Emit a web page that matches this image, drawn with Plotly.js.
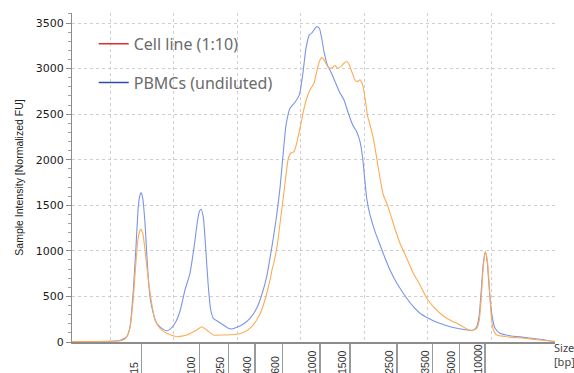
<!DOCTYPE html>
<html>
<head>
<meta charset="utf-8">
<script src="https://cdn.plot.ly/plotly-3.0.1.min.js"></script>
<style>html,body{margin:0;padding:0;background:#fff;}#chart{width:574px;height:373px;}</style>
</head>
<body>
<div id="chart"></div>
<script>
// Migration time (arbitrary units) and normalized fluorescence
const pbmcTime = [4.00, 8.41, 10.77, 11.55, 12.18, 12.61, 13.13, 13.65, 14.07, 14.43, 14.70, 14.86, 15.13, 15.49, 15.85, 16.27, 16.79, 17.33, 18.12, 18.90, 19.42, 20.21, 21.00, 21.78, 22.57, 23.36, 23.72, 24.03, 24.30, 24.66, 25.09, 25.45, 25.83, 26.24, 27.02, 27.81, 28.60, 29.13, 29.92, 30.96, 32.01, 33.06, 33.85, 34.64, 35.16, 35.68, 36.21, 36.73, 37.25, 37.68, 38.30, 39.09, 39.77, 40.30, 40.82, 41.34, 41.72, 42.08, 42.51, 42.92, 43.29, 43.65, 44.17, 44.71, 45.39, 46.06, 46.80, 47.48, 48.17, 48.80, 49.32, 49.74, 50.00, 50.37, 50.89, 51.68, 52.47, 53.25, 54.04, 54.83, 55.61, 56.67, 57.71, 58.76, 60.07, 61.39, 62.96, 64.54, 66.11, 67.15, 67.68, 68.05, 68.36, 68.72, 69.04, 69.35, 69.67, 70.04, 70.56, 71.35, 72.92, 75.02, 77.64, 80.00];
const pbmcFU = [5, 5, 11, 16, 38, 58, 168, 571, 1046, 1485, 1613, 1639, 1577, 1303, 862, 497, 315, 205, 150, 124, 139, 205, 340, 571, 757, 1120, 1317, 1430, 1457, 1372, 974, 607, 351, 260, 223, 187, 150, 143, 161, 198, 260, 370, 516, 717, 922, 1141, 1394, 1690, 2086, 2382, 2565, 2631, 2711, 2931, 3224, 3370, 3388, 3425, 3461, 3443, 3333, 3186, 3040, 2967, 2857, 2747, 2656, 2510, 2382, 2308, 2198, 2016, 1833, 1577, 1394, 1211, 1065, 922, 790, 681, 589, 480, 387, 315, 260, 216, 179, 150, 132, 132, 168, 278, 535, 864, 991, 864, 571, 315, 150, 96, 69, 52, 30, 5];

const cellTime = [4.00, 8.41, 11.24, 12.07, 12.61, 13.13, 13.65, 13.91, 14.15, 14.43, 14.81, 15.13, 15.49, 16.01, 16.54, 17.06, 17.85, 18.90, 20.48, 22.05, 23.62, 24.41, 25.20, 26.24, 27.81, 29.92, 31.22, 32.28, 33.06, 33.85, 34.64, 35.16, 35.47, 35.79, 36.31, 36.84, 37.20, 37.52, 38.04, 38.41, 38.93, 39.36, 39.88, 40.40, 40.93, 41.45, 42.08, 42.51, 42.92, 43.29, 43.65, 44.08, 44.49, 45.02, 45.39, 45.81, 46.28, 46.80, 47.23, 47.64, 48.01, 48.53, 48.90, 49.32, 49.74, 50.11, 50.47, 50.89, 51.41, 51.95, 52.47, 52.99, 53.52, 54.04, 54.83, 55.61, 56.67, 57.71, 58.76, 59.82, 60.85, 61.91, 62.96, 64.00, 65.06, 66.11, 66.90, 67.68, 68.09, 68.41, 68.72, 69.04, 69.35, 69.67, 69.93, 70.30, 70.83, 72.40, 75.02, 77.64, 80.00];
const cellFU = [5, 5, 11, 22, 55, 154, 483, 735, 955, 1152, 1237, 1193, 1010, 681, 425, 241, 150, 95, 58, 77, 132, 168, 132, 77, 77, 85, 113, 168, 241, 351, 535, 681, 790, 878, 1065, 1361, 1559, 1742, 2016, 2071, 2089, 2181, 2346, 2528, 2675, 2766, 2839, 2967, 3077, 3120, 3095, 3040, 3004, 3011, 3033, 3004, 3022, 3059, 3077, 3040, 2967, 2876, 2857, 2876, 2821, 2675, 2492, 2382, 2236, 2016, 1797, 1613, 1522, 1416, 1240, 1083, 919, 754, 626, 480, 387, 315, 260, 223, 187, 143, 124, 150, 241, 497, 826, 991, 900, 607, 315, 132, 77, 58, 41, 22, 5];

// Ladder size labels and their migration positions
const sizeLabels = ['15', '100', '250', '400', '600', '1000', '1500', '2500', '3500', '5000', '10000'];
const sizePos = [14.97, 24.03, 28.60, 32.80, 37.16, 43.03, 47.75, 55.10, 60.76, 64.95, 68.99];

const gridTimes = [10, 20, 30, 40, 50, 60, 70, 80];
const yTicks = [0, 500, 1000, 1500, 2000, 2500, 3000, 3500];

const legendNames = ['Cell line (1:10)', 'PBMCs (undiluted)'];
const legendColors = ['#e32b2b', '#2c4fa6'];

const traces = [
  {x: pbmcTime, y: pbmcFU, mode: 'lines', line: {color: '#7b94e6', width: 1.1, shape: 'spline', smoothing: 0.5}, showlegend: false, hoverinfo: 'skip'},
  {x: cellTime, y: cellFU, mode: 'lines', line: {color: '#ffaa55', width: 1.1, shape: 'spline', smoothing: 0.5}, showlegend: false, hoverinfo: 'skip'},
  {x: [null], y: [null], mode: 'lines', name: legendNames[0], legendgroup: 'a', line: {color: legendColors[0], width: 1.5}},
  {x: [null], y: [null], mode: 'lines', name: legendNames[1], legendgroup: 'b', line: {color: legendColors[1], width: 1.5}}
];

const annotations = sizeLabels.map((t, i) => ({
  text: t, x: sizePos[i], xref: 'x', y: 0, yref: 'paper',
  xanchor: 'center', yanchor: 'bottom', textangle: -90, showarrow: false,
  xshift: -8, yshift: -34,
  font: {family: 'Liberation Sans, Arial, sans-serif', size: 10.5, color: '#333'}
}));
annotations.push({
  text: 'Size<br>[bp]', x: 1, xref: 'paper', y: 0, yref: 'paper',
  xanchor: 'left', yanchor: 'top', align: 'left', showarrow: false, xshift: -3, yshift: 4,
  font: {family: 'Noto Sans, sans-serif', size: 11, color: '#444'}
});

const layout = {
  width: 574, height: 373,
  margin: {l: 72, r: 19, t: 13, b: 31, pad: 0},
  paper_bgcolor: '#fff', plot_bgcolor: '#fff',
  showlegend: true,
  legend: {
    x: 0.045, y: 0.958, xanchor: 'left', yanchor: 'top',
    bgcolor: 'rgba(0,0,0,0)', traceorder: 'grouped', tracegroupgap: 15,
    font: {family: 'Noto Sans, sans-serif', size: 16, color: '#6b6b6b'}
  },
  xaxis: {
    range: [4, 80], showgrid: false, zeroline: false,
    showline: true, linecolor: '#8c8c8c', linewidth: 2,
    tickmode: 'array', tickvals: sizePos, ticktext: sizeLabels, showticklabels: false,
    ticks: 'outside', ticklen: 31, tickwidth: 1.5, tickcolor: '#9a9a9a',
    minor: {tickmode: 'array', tickvals: gridTimes, showgrid: true, gridcolor: '#cfcfcf', griddash: 'dot', gridwidth: 1, ticks: ''}
  },
  yaxis: {
    range: [0, 3610], showgrid: true, gridcolor: '#cfcfcf', griddash: 'dot', gridwidth: 1,
    zeroline: false, showline: true, linecolor: '#8c8c8c', linewidth: 1,
    tickmode: 'array', tickvals: yTicks, ticks: 'outside', ticklen: 5, tickcolor: '#8c8c8c',
    minor: {dtick: 100, ticks: 'outside', ticklen: 3, tickcolor: '#a0a0a0', showgrid: false},
    tickfont: {family: 'DejaVu Sans, sans-serif', size: 11, color: '#1a1a1a'},
    title: {text: 'Sample Intensity [Normalized FU]', standoff: 10,
      font: {family: 'Liberation Sans, Arial, sans-serif', size: 10.5, color: '#222'}}
  },
  annotations: annotations
};

Plotly.newPlot('chart', traces, layout, {displayModeBar: false, staticPlot: true});
</script>
</body>
</html>
